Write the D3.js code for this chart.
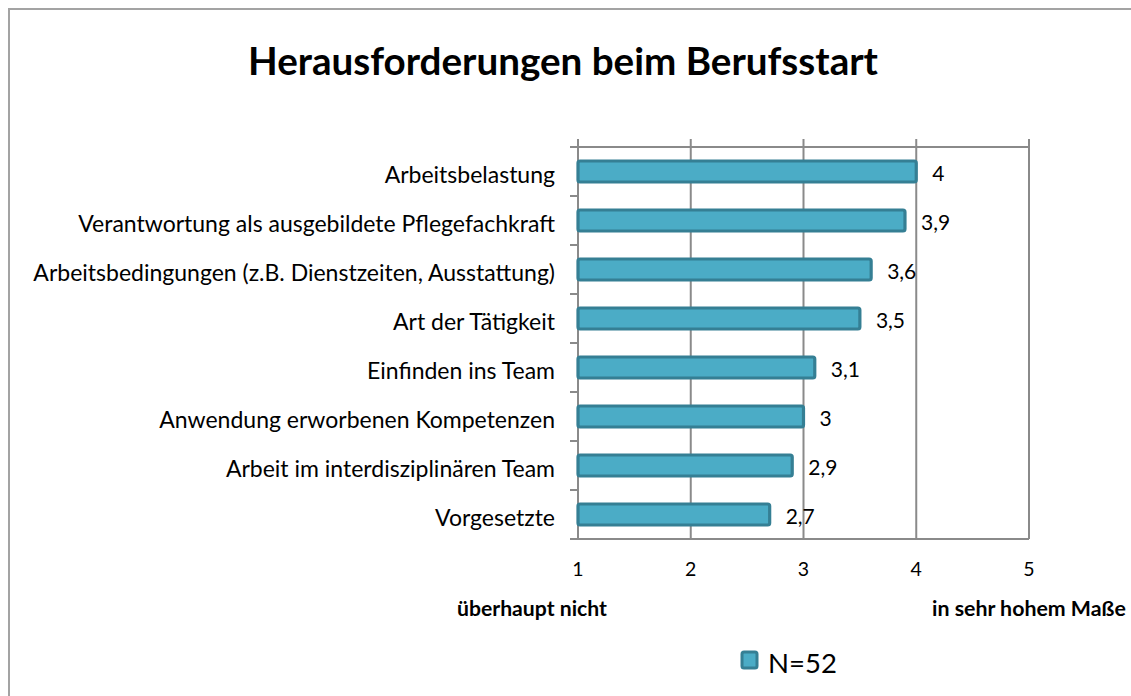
<!DOCTYPE html>
<html>
<head>
<meta charset="utf-8">
<script src="https://cdn.jsdelivr.net/npm/d3@7"></script>
<style>
  body { margin: 0; background: #fff; }
  svg { display: block; font-family: Lato, "Open Sans", sans-serif; }
</style>
</head>
<body>
<svg id="chart" width="1131" height="696"></svg>
<script>
// chart data
const categories = [
    "Arbeitsbelastung",
    "Verantwortung als ausgebildete Pflegefachkraft",
    "Arbeitsbedingungen (z.B. Dienstzeiten, Ausstattung)",
    "Art der Tätigkeit",
    "Einfinden ins Team",
    "Anwendung erworbenen Kompetenzen",
    "Arbeit im interdisziplinären Team",
    "Vorgesetzte"
];
const values = [4, 3.9, 3.6, 3.5, 3.1, 3, 2.9, 2.7];
const xTicks = [1, 2, 3, 4, 5];
const titleText = "Herausforderungen beim Berufsstart";
const lowLabel = "überhaupt nicht";
const highLabel = "in sehr hohem Maße";
const seriesName = "N=52";

const svg = d3.select("#chart");
const plotLeft = 578, plotRight = 1029, plotTop = 147, plotBottom = 539;
const gridColor = "#8a8a8a";
const barFill = "#4bacc6", barStroke = "#357f94";

// shrink/grow a text node until it has the wanted width
function fitWidth(sel, target) {
    let size = parseFloat(sel.attr("font-size"));
    let w = sel.node().getComputedTextLength();
    sel.attr("font-size", size * target / w);
}

// outer frame
svg.append("rect")
    .attr("x", 9).attr("y", 9)
    .attr("width", 1300).attr("height", 900)
    .attr("fill", "none")
    .attr("stroke", "#a3a3a3")
    .attr("stroke-width", 2);

let title = svg.append("text")
    .attr("x", 563).attr("y", 75)
    .attr("text-anchor", "middle")
    .attr("font-size", 34)
    .attr("font-weight", "bold")
    .text(titleText);
fitWidth(title, 630);

const x = d3.scaleLinear().domain([1, 5]).range([plotLeft, plotRight]);
const y = d3.scaleBand().domain(categories).range([plotTop, plotBottom]);

// gridlines (values 2..5), run a bit above the top line
svg.append("g")
    .selectAll("line")
    .data(xTicks.slice(1))
    .join("line")
    .attr("x1", d => x(d)).attr("x2", d => x(d))
    .attr("y1", plotTop - 8).attr("y2", plotBottom)
    .attr("stroke", gridColor)
    .attr("stroke-width", 2);

// top border of plot area
svg.append("line")
    .attr("x1", plotLeft).attr("x2", plotRight)
    .attr("y1", plotTop).attr("y2", plotTop)
    .attr("stroke", gridColor).attr("stroke-width", 2);

// category axis on the left
svg.append("line")
    .attr("x1", plotLeft).attr("x2", plotLeft)
    .attr("y1", plotTop - 8).attr("y2", plotBottom)
    .attr("stroke", gridColor).attr("stroke-width", 2);
svg.append("g")
    .selectAll("line")
    .data(d3.range(categories.length + 1))
    .join("line")
    .attr("x1", plotLeft - 8).attr("x2", plotLeft)
    .attr("y1", i => plotTop + i * y.step()).attr("y2", i => plotTop + i * y.step())
    .attr("stroke", gridColor).attr("stroke-width", 2);
svg.append("line")
    .attr("x1", plotLeft - 8).attr("x2", plotRight)
    .attr("y1", plotBottom).attr("y2", plotBottom)
    .attr("stroke", gridColor).attr("stroke-width", 2);

// category labels
let catLabels = svg.append("g")
    .selectAll("text")
    .data(categories)
    .join("text")
    .attr("x", plotLeft - 23)
    .attr("y", d => y(d) + y.bandwidth() / 2 + 11)
    .attr("text-anchor", "end")
    .attr("font-size", 19)
    .attr("fill", "#000")
    .text(d => d);
// scale all category labels by the longest one
{
    let longest = catLabels.filter(d => d === categories[1]);
    let w = longest.node().getComputedTextLength();
    catLabels.attr("font-size", 19 * 477 / w);
}

// bars
const barH = 21;
svg.append("g")
    .selectAll("rect")
    .data(values)
    .join("rect")
    .attr("x", x(1))
    .attr("y", (d, i) => y(categories[i]) + y.bandwidth() / 2 - barH / 2)
    .attr("width", d => x(d) - x(1))
    .attr("height", barH)
    .attr("rx", 2)
    .attr("fill", barFill)
    .attr("stroke", barStroke)
    .attr("stroke-width", 3.2);

// value labels
svg.append("g")
    .selectAll("text")
    .data(values)
    .join("text")
    .attr("x", d => x(d) + 16)
    .attr("y", (d, i) => y(categories[i]) + y.bandwidth() / 2 + 9)
    .attr("font-size", 21)
    .text(d => String(d).replace(".", ","));

// x tick labels
svg.append("g")
    .selectAll("text")
    .data(xTicks)
    .join("text")
    .attr("x", d => x(d))
    .attr("y", 576)
    .attr("text-anchor", "middle")
    .attr("font-size", 19.5)
    .text(d => d);

let low = svg.append("text")
    .attr("x", 457).attr("y", 616)
    .attr("font-size", 16).attr("font-weight", "bold")
    .text(lowLabel);
fitWidth(low, 150);
let high = svg.append("text")
    .attr("x", 932).attr("y", 616)
    .attr("font-size", 16).attr("font-weight", "bold")
    .text(highLabel);
fitWidth(high, 194);

// legend
svg.append("rect")
    .attr("x", 742).attr("y", 652)
    .attr("width", 15).attr("height", 16)
    .attr("rx", 2)
    .attr("fill", barFill)
    .attr("stroke", barStroke)
    .attr("stroke-width", 3);
svg.append("text")
    .attr("x", 768).attr("y", 673)
    .attr("font-size", 27.5)
    .text(seriesName);
</script>
</body>
</html>
